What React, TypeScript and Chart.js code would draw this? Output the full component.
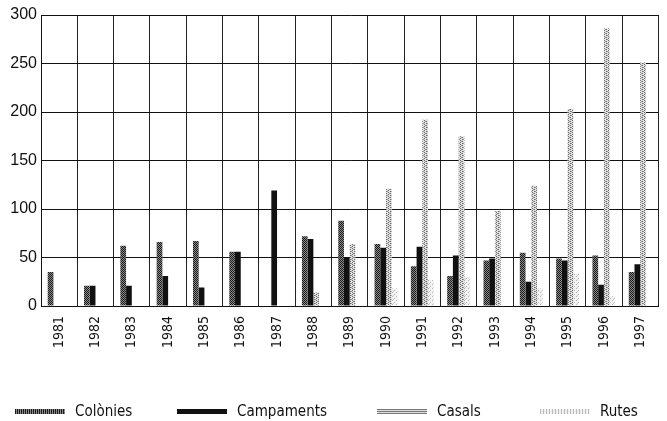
import React, { useEffect, useRef } from "react";
import { Chart, registerables } from "chart.js";

Chart.register(...registerables);

const years = ["1981","1982","1983","1984","1985","1986","1987","1988","1989","1990","1991","1992","1993","1994","1995","1996","1997"];
const colonies = [35, 21, 62, 66, 67, 56, 0, 72, 88, 64, 41, 31, 47, 55, 49, 52, 35];
const campaments = [0, 21, 21, 31, 19, 56, 119, 69, 50, 60, 61, 52, 49, 25, 47, 22, 43];
const casals = [0, 0, 0, 0, 0, 0, 0, 14, 64, 121, 192, 175, 98, 124, 203, 286, 251];
const rutes = [0, 0, 0, 0, 0, 0, 0, 0, 0, 18, 27, 30, 0, 18, 34, 10, 0];
const seriesNames = ["Colònies", "Campaments", "Casals", "Rutes"];
const yTicks = [0, 50, 100, 150, 200, 250, 300];

const NARROW = '"Liberation Sans Narrow", "DejaVu Sans Condensed", sans-serif';
const REGULAR = '"Liberation Sans", Arial, sans-serif';

function makePattern(kind: string): CanvasPattern | string {
  const c = document.createElement("canvas");
  c.width = 4;
  c.height = 4;
  const ctx = c.getContext("2d");
  if (!ctx) return "#888";
  if (kind === "colonies") {
    ctx.fillStyle = "#8a8a8a";
    ctx.fillRect(0, 0, 4, 4);
    ctx.fillStyle = "#1a1a1a";
    for (let y = 0; y < 4; y++) for (let x = 0; x < 4; x++) if ((x + y) % 2 === 0) ctx.fillRect(x, y, 1, 1);
  } else if (kind === "casals") {
    ctx.fillStyle = "#e0e0e0";
    ctx.fillRect(0, 0, 4, 4);
    ctx.fillStyle = "#6a6a6a";
    for (let y = 0; y < 4; y += 2) { ctx.fillRect(0, y, 1, 1); ctx.fillRect(2, y + 1, 1, 1); }
    ctx.fillStyle = "#9a9a9a";
    ctx.fillRect(1, 1, 1, 1);
    ctx.fillRect(3, 3, 1, 1);
  } else {
    ctx.fillStyle = "#f2f2f2";
    ctx.fillRect(0, 0, 4, 4);
    ctx.fillStyle = "#b8b8b8";
    ctx.fillRect(0, 0, 1, 1);
    ctx.fillRect(2, 2, 1, 1);
    ctx.fillStyle = "#d2d2d2";
    ctx.fillRect(1, 3, 1, 1);
  }
  return ctx.createPattern(c, "repeat") || "#888";
}

const swatchStyles: React.CSSProperties[] = [
  { background: "repeating-linear-gradient(90deg, #1a1a1a 0 1px, #888 1px 2px)" },
  { background: "#111" },
  { background: "repeating-linear-gradient(0deg, #777 0 1px, #e0e0e0 1px 2px)" },
  { background: "repeating-linear-gradient(90deg, #bbb 0 1px, #f0f0f0 1px 3px)" },
];
const legendLefts = [15, 177, 377, 540];

export default function App() {
  const ref = useRef<HTMLCanvasElement>(null);

  useEffect(() => {
    document.body.style.margin = "0";
    const canvas = ref.current;
    if (!canvas) return;
    const chart = new Chart(canvas, {
      type: "bar",
      data: {
        labels: years,
        datasets: [
          { label: seriesNames[0], data: colonies, backgroundColor: makePattern("colonies") as any },
          { label: seriesNames[1], data: campaments, backgroundColor: "#111111" },
          { label: seriesNames[2], data: casals, backgroundColor: makePattern("casals") as any },
          { label: seriesNames[3], data: rutes, backgroundColor: makePattern("rutes") as any },
        ],
      },
      options: {
        responsive: false,
        animation: false,
        events: [],
        layout: { padding: { top: 15, right: 0, left: 0, bottom: 0 } },
        datasets: { bar: { categoryPercentage: 0.63, barPercentage: 1.0, borderWidth: 0 } },
        plugins: { legend: { display: false }, tooltip: { enabled: false } },
        scales: {
          x: {
            grid: { color: "#222", lineWidth: 1, offset: true, drawTicks: false },
            border: { color: "#111", width: 1 },
            ticks: {
              color: "#111",
              font: { family: NARROW, size: 14 },
              minRotation: 90,
              maxRotation: 90,
              padding: 10,
              autoSkip: false,
            },
            afterFit: (scale: any) => { scale.height = 115; },
          },
          y: {
            min: 0,
            max: 300,
            afterBuildTicks: (scale: any) => { scale.ticks = yTicks.map((v) => ({ value: v })); },
            grid: { color: "#111", lineWidth: 1, drawTicks: false },
            border: { color: "#111", width: 1 },
            ticks: {
              color: "#111",
              font: { family: REGULAR, size: 16 },
              padding: 4,
            },
            afterFit: (scale: any) => { scale.width = 41; },
          },
        },
      },
    });
    return () => chart.destroy();
  }, []);

  return (
    <div style={{ position: "fixed", left: 0, top: 0, width: 667, height: 421, background: "#fff", overflow: "hidden" }}>
      <canvas ref={ref} width={667} height={421} style={{ position: "absolute", left: 0, top: 0, width: 667, height: 421 }} />
      {seriesNames.map((name, i) => (
        <div key={name} style={{ position: "absolute", left: legendLefts[i], top: 401, height: 20, display: "flex", alignItems: "center" }}>
          <div style={{ width: 50, height: 5, ...swatchStyles[i] }} />
          <span style={{ marginLeft: 10, fontFamily: NARROW, fontSize: 15, color: "#111", lineHeight: "20px" }}>{name}</span>
        </div>
      ))}
    </div>
  );
}
